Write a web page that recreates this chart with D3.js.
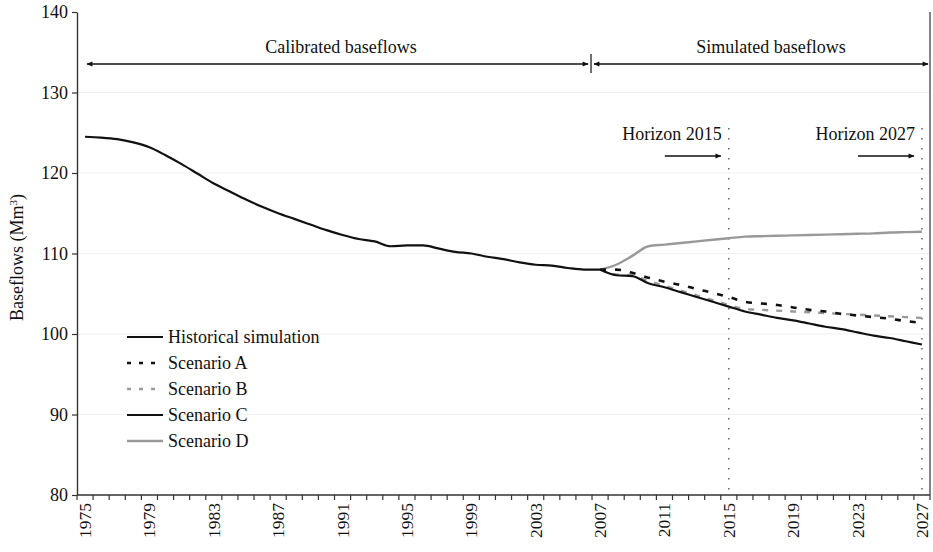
<!DOCTYPE html>
<html>
<head>
<meta charset="utf-8">
<script src="https://cdn.jsdelivr.net/npm/d3@7/dist/d3.min.js"></script>
<style>
  html, body { margin: 0; padding: 0; background: #fff; }
  svg { display: block; }
  text { font-family: "Liberation Serif", "Times New Roman", serif; fill: #111; }
</style>
</head>
<body>
<svg id="chart" width="933" height="552"></svg>
<script>
// Annual baseflow categories
const years = d3.range(1975, 2028);
const yTicks = [80, 90, 100, 110, 120, 130, 140];
const yearLabels = [1975, 1979, 1983, 1987, 1991, 1995, 1999, 2003, 2007, 2011, 2015, 2019, 2023, 2027];

// Calibrated (historical) baseflows, 1975-2007, Mm3
const histYears = d3.range(1975, 2008);
const historical = [124.5, 124.4, 124.2, 123.8, 123.2, 122.2, 121.1, 119.9, 118.7, 117.7,
  116.7, 115.8, 115.0, 114.3, 113.6, 112.9, 112.3, 111.8, 111.5, 110.9,
  111.0, 111.0, 110.6, 110.2, 110.0, 109.6, 109.3, 108.9, 108.6, 108.5,
  108.2, 108.0, 108.0];

// Simulated baseflows, 2007-2027, Mm3
const scenYears = d3.range(2007, 2028);
const scenarioA = [108.0, 108.0, 107.6, 107.0, 106.5, 106.1, 105.6, 105.1, 104.6, 104.0,
  103.8, 103.6, 103.3, 103.0, 102.8, 102.5, 102.3, 102.1, 101.9, 101.6, 101.4];
const scenarioB = [108.0, 107.4, 107.3, 106.6, 106.0, 105.4, 104.8, 104.2, 103.6, 103.1,
  103.0, 102.9, 102.8, 102.7, 102.6, 102.5, 102.4, 102.3, 102.2, 102.1, 102.0];
const scenarioC = [108.0, 107.3, 107.2, 106.3, 105.8, 105.2, 104.6, 104.0, 103.4, 102.8,
  102.4, 102.0, 101.7, 101.3, 100.9, 100.6, 100.2, 99.8, 99.5, 99.1, 98.7];
const scenarioD = [108.0, 108.6, 109.7, 110.9, 111.1, 111.3, 111.5, 111.7, 111.9, 112.1,
  112.15, 112.2, 112.25, 112.3, 112.35, 112.4, 112.45, 112.5, 112.6, 112.65, 112.7];

const seriesNames = ["Historical simulation", "Scenario A", "Scenario B", "Scenario C", "Scenario D"];

const svg = d3.select("#chart");
const plotLeft = 77, plotRight = 930, plotTop = 12, plotBottom = 495;

const x = d3.scaleBand().domain(years).range([plotLeft, plotRight]).padding(0);
const xc = yr => x(yr) + x.bandwidth() / 2;
const y = d3.scaleLinear().domain([80, 140]).range([plotBottom, plotTop]);

// faint horizontal gridlines
svg.append("g").selectAll("line").data(yTicks.slice(1, -1)).join("line")
  .attr("x1", plotLeft).attr("x2", plotRight)
  .attr("y1", d => y(d)).attr("y2", d => y(d))
  .attr("stroke", "#f0f0f0").attr("stroke-width", 1);

// y axis
const yAxis = svg.append("g").attr("transform", `translate(${plotLeft},0)`)
  .call(d3.axisLeft(y).tickValues(yTicks).tickSize(5).tickSizeOuter(0).tickPadding(4));
yAxis.select(".domain").attr("stroke", "#333").attr("stroke-width", 1.4);
yAxis.selectAll(".tick line").attr("stroke", "#333").attr("stroke-width", 1.2);
yAxis.selectAll(".tick text").style("font-family", "Liberation Serif").style("font-size", "18px").attr("fill", "#111");

// right border
svg.append("line").attr("x1", plotRight).attr("x2", plotRight).attr("y1", plotTop).attr("y2", plotBottom)
  .attr("stroke", "#333").attr("stroke-width", 1.2);

// x axis: tick marks at category boundaries, labels every 4 years
const xg = svg.append("g");
xg.append("line").attr("x1", plotLeft).attr("x2", plotRight).attr("y1", plotBottom).attr("y2", plotBottom)
  .attr("stroke", "#333").attr("stroke-width", 1.4);
const bounds = years.map(yr => x(yr)).concat([plotRight]);
xg.selectAll("line.tk").data(bounds).join("line").attr("class", "tk")
  .attr("x1", d => d).attr("x2", d => d).attr("y1", plotBottom).attr("y2", plotBottom + 5)
  .attr("stroke", "#333").attr("stroke-width", 1.2);
xg.selectAll("text").data(yearLabels).join("text")
  .attr("transform", d => `translate(${xc(d) + 6},${plotBottom + 8}) rotate(-90)`)
  .attr("text-anchor", "end")
  .style("font-size", "17.5px")
  .text(d => d);

// y axis title
const yTitle = svg.append("text")
  .attr("transform", `translate(23,${y(109.5)}) rotate(-90)`)
  .attr("text-anchor", "middle")
  .style("font-size", "18px");
yTitle.append("tspan").text("Baseflows (Mm");
yTitle.append("tspan").attr("dy", -6).style("font-size", "11px").text("3");
yTitle.append("tspan").attr("dy", 6).text(")");

// arrow markers
const defs = svg.append("defs");
function marker(id, orient) {
  defs.append("marker").attr("id", id).attr("viewBox", "0 0 10 10")
    .attr("refX", 9).attr("refY", 5).attr("markerWidth", 7).attr("markerHeight", 6)
    .attr("markerUnits", "userSpaceOnUse").attr("orient", orient)
    .append("path").attr("d", "M0,1 L10,5 L0,9 Z").attr("fill", "#111");
}
marker("arrow", "auto");
marker("arrowStart", "auto-start-reverse");

// period annotation
const divX = x(2007) - 1;
const arrowY = 64;
svg.append("line").attr("x1", xc(1975) + 2).attr("x2", divX - 3).attr("y1", arrowY).attr("y2", arrowY)
  .attr("stroke", "#111").attr("stroke-width", 1.3)
  .attr("marker-start", "url(#arrowStart)").attr("marker-end", "url(#arrow)");
svg.append("line").attr("x1", divX + 3).attr("x2", plotRight - 2).attr("y1", arrowY).attr("y2", arrowY)
  .attr("stroke", "#111").attr("stroke-width", 1.3)
  .attr("marker-start", "url(#arrowStart)").attr("marker-end", "url(#arrow)");
svg.append("line").attr("x1", divX).attr("x2", divX).attr("y1", arrowY - 10).attr("y2", arrowY + 9)
  .attr("stroke", "#111").attr("stroke-width", 1.2);
svg.append("text").attr("x", 341).attr("y", 53).attr("text-anchor", "middle")
  .style("font-size", "18px").text("Calibrated baseflows");
svg.append("text").attr("x", 771).attr("y", 53).attr("text-anchor", "middle")
  .style("font-size", "18px").text("Simulated baseflows");

// planning horizons
[2015, 2027].forEach(h => {
  svg.append("line").attr("x1", xc(h)).attr("x2", xc(h)).attr("y1", 128).attr("y2", plotBottom)
    .attr("stroke", "#555").attr("stroke-width", 1.4).attr("stroke-dasharray", "1.4,8.6");
  svg.append("text").attr("x", xc(h) - 7).attr("y", 140).attr("text-anchor", "end")
    .style("font-size", "18px").text("Horizon " + h);
  svg.append("line").attr("x1", xc(h) - 64).attr("x2", xc(h) - 8).attr("y1", 156).attr("y2", 156)
    .attr("stroke", "#111").attr("stroke-width", 1.3).attr("marker-end", "url(#arrow)");
});

// series lines
const line = d3.line().x(d => xc(d[0])).y(d => y(d[1])).curve(d3.curveMonotoneX);
const zipS = (ys, vs) => ys.map((yr, i) => [yr, vs[i]]);
const styles = [
  { name: seriesNames[0], years: histYears, values: historical, color: "#111", width: 2.2, dash: null },
  { name: seriesNames[4], years: scenYears, values: scenarioD, color: "#999", width: 2.4, dash: null },
  { name: seriesNames[2], years: scenYears, values: scenarioB, color: "#9a9a9a", width: 2.4, dash: "6,8" },
  { name: seriesNames[3], years: scenYears, values: scenarioC, color: "#111", width: 2.2, dash: null },
  { name: seriesNames[1], years: scenYears, values: scenarioA, color: "#111", width: 2.6, dash: "6,9" }
];
svg.append("g").selectAll("path").data(styles).join("path")
  .attr("d", s => line(zipS(s.years, s.values)))
  .attr("fill", "none").attr("stroke", s => s.color).attr("stroke-width", s => s.width)
  .attr("stroke-dasharray", s => s.dash);

// legend
const legendOrder = seriesNames.map(n => styles.find(s => s.name === n));
const lg = svg.append("g").attr("transform", "translate(127,337)");
const rows = lg.selectAll("g").data(legendOrder).join("g")
  .attr("transform", (d, i) => `translate(0,${i * 26})`);
rows.append("line").attr("x1", 0).attr("x2", 36).attr("y1", 0).attr("y2", 0)
  .attr("stroke", d => d.color).attr("stroke-width", d => d.width)
  .attr("stroke-dasharray", d => d.dash ? "4,8" : null);
rows.append("text").attr("x", 41).attr("y", 6).style("font-size", "18px").text(d => d.name);
</script>
</body>
</html>
